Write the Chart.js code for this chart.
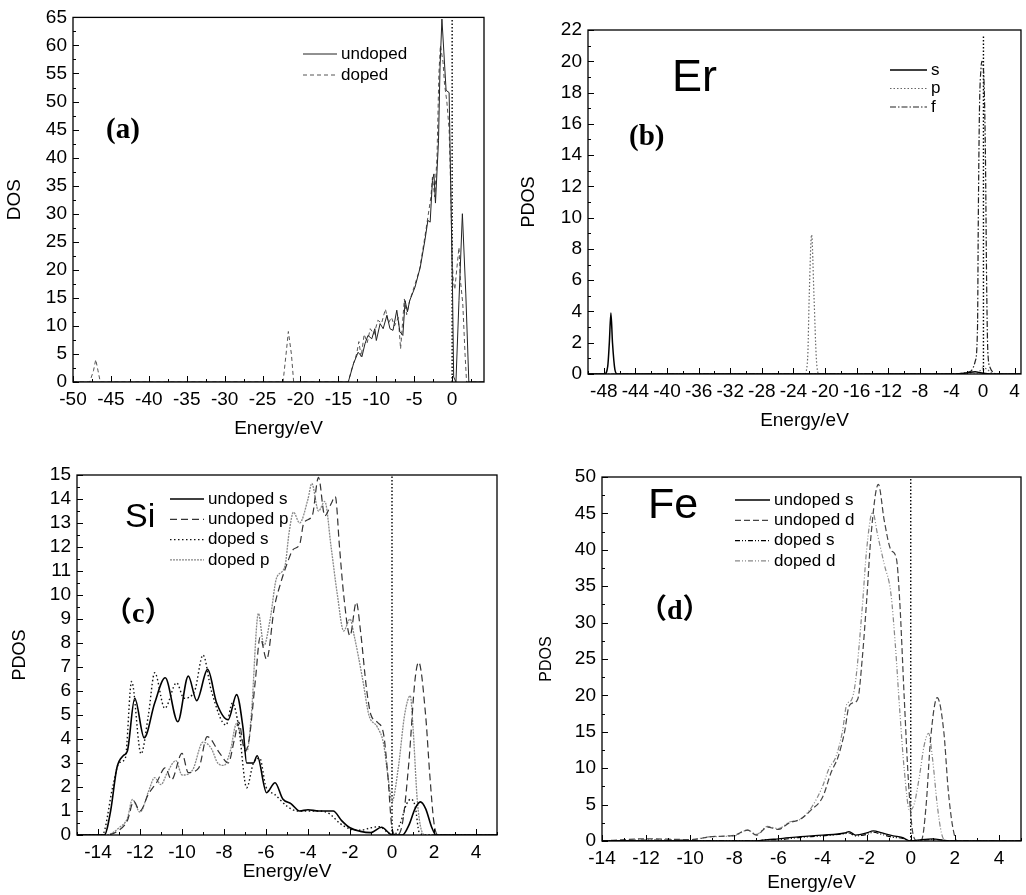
<!DOCTYPE html>
<html>
<head>
<meta charset="utf-8">
<script src="https://cdn.jsdelivr.net/npm/chart.js@4.4.0/dist/chart.umd.min.js"></script>
<style>
  body { margin: 0; background: #fff; width: 1026px; height: 895px; position: relative; overflow: hidden; }
  canvas { position: absolute; }
</style>
</head>
<body>
<canvas id="pa" width="505" height="442" style="left:0;top:0"></canvas>
<canvas id="pb" width="521" height="442" style="left:505px;top:0"></canvas>
<canvas id="pc" width="505" height="453" style="left:0;top:442px"></canvas>
<canvas id="pd" width="521" height="453" style="left:505px;top:442px"></canvas>
<script>
// ---- (a) total DOS, [energy, dos] ----
const aUndoped = [[-50,0],[-13.7,0],[-13.0,3.3],[-12.4,5.3],[-11.9,4.5],[-11.5,6.8],[-11.1,8.3],[-10.6,7.7],[-10.2,9.5],[-10.0,7.4],[-9.5,10.4],[-9.1,9.5],[-8.6,11.9],[-8.2,9.5],[-7.8,9.2],[-7.3,12.8],[-6.9,9.0],[-6.5,8.3],[-6.2,14.5],[-5.9,12.5],[-5.6,14.5],[-4.9,16.9],[-4.2,20.5],[-3.6,25.2],[-3.2,28.8],[-2.9,28.5],[-2.6,35.9],[-2.4,37.1],[-2.2,31.9],[-1.8,43],[-1.6,56],[-1.35,64.7],[-1.1,59],[-0.8,52],[-0.4,51.6],[-0.2,35.9],[0.05,16.3],[0.2,0.9],[0.5,0],[0.9,14.5],[1.35,30],[1.8,15.7],[2.2,0],[4.2,0]];
const aDoped = [[-50,0],[-47.8,0],[-47.3,2],[-47.0,4],[-46.7,2],[-46.4,0],[-22.3,0],[-21.9,5],[-21.6,9],[-21.2,5],[-20.9,0],[-13.7,0],[-13.2,2.5],[-12.6,5],[-12.3,7.2],[-12.0,4.5],[-11.6,8.5],[-11.2,7.0],[-10.8,9.5],[-10.3,8.5],[-9.8,11],[-9.3,10.5],[-8.8,13],[-8.4,10.5],[-8.0,11.5],[-7.6,10],[-7.1,11.5],[-6.8,5.9],[-6.3,14.8],[-6.0,12],[-5.6,14.5],[-5.0,17],[-4.3,20],[-3.7,25],[-3.3,28.5],[-2.8,33],[-2.6,36.5],[-2.3,33],[-2.0,40],[-1.75,55],[-1.55,60],[-1.2,57],[-1.0,53],[-0.7,50],[-0.4,45],[-0.2,35],[0.0,22],[0.15,18],[0.35,16.5],[0.6,20],[0.9,24],[1.1,18],[1.4,14],[1.7,5],[1.9,0],[4.2,0]];
const aFermi = [[0,0],[0,65]];
const aXTicks = [-50,-45,-40,-35,-30,-25,-20,-15,-10,-5,0];
const aYTicks = [0,5,10,15,20,25,30,35,40,45,50,55,60,65];

// ---- (b) Er PDOS ----
const bS = [[-50,0],[-47.9,0],[-47.5,0.5],[-47.3,2],[-47.1,3.9],[-46.9,2],[-46.6,0.3],[-46.3,0],[-3.5,0],[-2,0.08],[-1,0.15],[-0.5,0.1],[0,0.05],[1,0],[4.8,0]];
const bP = [[-50,0],[-22.6,0],[-22.2,1],[-22.0,5],[-21.7,8.9],[-21.4,5],[-21.1,1],[-20.8,0],[-1,0],[-0.4,0.2],[0,0.4],[0.5,0.3],[1.0,0.1],[1.5,0],[4.8,0]];
const bF = [[-50,0],[-4,0],[-3,0.03],[-2,0.1],[-1.5,0.2],[-1.0,0.8],[-0.7,3],[-0.6,10],[-0.45,17],[-0.25,19.6],[-0.15,20],[0.1,19],[0.3,14],[0.45,6],[0.6,1.5],[0.9,0.4],[1.3,0.1],[2,0],[4.8,0]];
const bFermi = [[0.05,0],[0.05,21.6]];
const bXTicks = [-48,-44,-40,-36,-32,-28,-24,-20,-16,-12,-8,-4,0,4];
const bYTicks = [0,2,4,6,8,10,12,14,16,18,20,22];

// ---- (c) Si PDOS ----
const cUndopedS = [[-15,0],[-13.7,0],[-13.4,1],[-13.1,2.8],[-12.8,3.3],[-12.6,3.5],[-12.25,5.7],[-11.8,4.05],[-11.3,5.5],[-10.8,6.55],[-10.2,4.72],[-9.7,6.62],[-9.3,5.6],[-8.78,6.9],[-8.35,5.5],[-7.8,4.8],[-7.4,5.85],[-7.1,4.5],[-6.92,3.0],[-6.6,3.0],[-6.42,3.3],[-5.97,1.76],[-5.57,2.18],[-5.2,1.5],[-4.8,1.3],[-4.4,1.0],[-4.0,1.05],[-3.5,1.0],[-2.8,1.0],[-2.4,0.6],[-2.0,0.3],[-1.5,0.15],[-1.0,0.1],[-0.5,0.32],[-0.1,0.05],[0,0],[0.5,0],[0.8,0.4],[1.1,1.1],[1.35,1.38],[1.6,1.1],[1.9,0.3],[2.1,0],[5,0]];
const cUndopedP = [[-15,0],[-13.6,0],[-13,0.2],[-12.6,0.6],[-12.3,1.4],[-12.0,1.0],[-11.6,1.7],[-11.2,2.2],[-10.8,2.8],[-10.5,2.3],[-10.0,3.4],[-9.7,2.6],[-9.2,2.8],[-8.8,4.1],[-8.2,3.4],[-7.8,3.0],[-7.5,4.0],[-7.3,4.7],[-7.0,3.5],[-6.8,4.0],[-6.5,6.5],[-6.28,8.24],[-5.97,7.32],[-5.6,9.5],[-5.3,10.5],[-5.0,11.3],[-4.7,11.9],[-4.4,12.1],[-4.2,13.0],[-3.8,13.3],[-3.5,14.9],[-3.2,13.3],[-2.9,13.8],[-2.7,14.1],[-2.5,12.0],[-2.3,10.0],[-2.0,8.3],[-1.7,9.7],[-1.5,8.5],[-1.2,6.0],[-1.0,5.0],[-0.7,4.7],[-0.4,4.2],[-0.2,2.5],[0.0,0.3],[0.2,0.0],[0.5,0.5],[0.8,3.0],[1.1,6.5],[1.27,7.2],[1.6,5.0],[1.8,2.5],[2.0,0.5],[2.2,0],[5,0]];
const cDopedS = [[-15,0],[-13.8,0],[-13.3,2.0],[-13.0,3.0],[-12.7,3.2],[-12.4,6.4],[-11.95,3.38],[-11.6,5.0],[-11.3,6.76],[-10.82,5.28],[-10.26,6.34],[-9.9,5.7],[-9.4,6.0],[-9.0,7.5],[-8.6,6.0],[-7.9,4.58],[-7.6,5.5],[-7.3,4.5],[-6.92,1.97],[-6.6,3.0],[-6.3,3.2],[-6.0,2.0],[-5.6,1.7],[-5.0,1.2],[-4.5,1.0],[-4.0,1.0],[-3.5,1.0],[-3.0,0.9],[-2.5,0.5],[-2.0,0.25],[-1.5,0.2],[-1.0,0.3],[-0.6,0.35],[-0.2,0.1],[0.1,0.0],[0.4,0.5],[0.7,1.3],[0.9,1.5],[1.1,1.2],[1.3,0.1],[1.6,0],[5,0]];
const cDopedP = [[-15,0],[-13.6,0],[-13,0.3],[-12.6,0.7],[-12.36,1.48],[-12.0,0.95],[-11.6,1.8],[-11.3,2.39],[-11.0,2.1],[-10.7,2.6],[-10.29,3.1],[-10.0,2.5],[-9.5,2.7],[-9.0,3.87],[-8.6,3.6],[-8.3,3.0],[-8.0,2.9],[-7.7,3.5],[-7.4,4.65],[-7.1,3.8],[-6.9,3.5],[-6.7,5.0],[-6.36,9.23],[-6.1,7.9],[-5.8,9.0],[-5.5,10.7],[-5.1,11.2],[-4.9,12.6],[-4.69,13.45],[-4.4,13.0],[-4.0,14.0],[-3.82,14.65],[-3.5,13.5],[-3.2,13.9],[-2.9,12.0],[-2.6,10.0],[-2.3,8.5],[-2.0,9.0],[-1.8,8.3],[-1.4,6.5],[-1.1,5.0],[-0.7,4.5],[-0.4,3.8],[-0.2,2.5],[0.0,1.4],[0.3,2.8],[0.6,5.0],[0.87,5.8],[1.0,4.5],[1.2,1.5],[1.4,0.2],[1.6,0],[5,0]];
const cFermi = [[0,0],[0,15]];
const cXTicks = [-14,-12,-10,-8,-6,-4,-2,0,2,4];
const cYTicks = [0,1,2,3,4,5,6,7,8,9,10,11,12,13,14,15];

// ---- (d) Fe PDOS ----
const dUndopedS = [[-14,0],[-13.5,0.05],[-10,0.05],[-7,0],[-6.5,0.2],[-6,0.3],[-5,0.6],[-4,0.8],[-3,1.1],[-2.8,1.3],[-2.5,0.8],[-2.0,1.1],[-1.7,1.4],[-1.3,1.1],[-0.8,0.7],[-0.4,0.5],[0,0],[0.5,0.2],[1.0,0.3],[1.5,0.1],[2,0],[5,0]];
const dUndopedD = [[-14,0],[-13.5,0.1],[-12,0.3],[-10,0.2],[-9,0.6],[-8,0.8],[-7.4,1.5],[-7,0.8],[-6.5,1.9],[-6,1.6],[-5.5,2.5],[-5,3.0],[-4.5,4.3],[-4.0,6.0],[-3.6,9.5],[-3.3,11.5],[-3.0,15.0],[-2.8,18.5],[-2.6,19.0],[-2.4,19.5],[-2.2,25],[-2.0,33],[-1.8,42],[-1.47,49],[-1.2,44],[-0.9,40],[-0.65,38.8],[-0.5,33],[-0.3,20],[-0.1,8],[0.1,1],[0.3,0],[0.5,0.2],[0.7,5],[0.9,14],[1.2,19.7],[1.5,15],[1.7,7],[1.9,2],[2.1,0],[5,0]];
const dDopedS = [[-14,0],[-13.5,0.05],[-10,0.05],[-7,0],[-6.5,0.2],[-6,0.2],[-5,0.5],[-4,0.7],[-3,1.0],[-2.8,1.1],[-2.5,0.7],[-2.0,0.9],[-1.7,1.2],[-1.3,0.9],[-0.8,0.5],[-0.4,0.4],[0,0],[0.5,0.1],[1.0,0.2],[1.5,0.1],[2,0],[5,0]];
const dDopedD = [[-14,0],[-13.5,0],[-12,0.2],[-10,0.2],[-9,0.6],[-8,0.7],[-7.4,1.5],[-7,0.9],[-6.5,2.0],[-6,1.7],[-5.5,2.6],[-5.0,3.0],[-4.5,4.6],[-4.0,7.5],[-3.7,10],[-3.4,11.5],[-3.1,15],[-2.9,18.8],[-2.7,19.3],[-2.5,22],[-2.2,32],[-2.0,40],[-1.73,45.2],[-1.5,42],[-1.2,38],[-0.9,34],[-0.7,27],[-0.5,18],[-0.3,10],[-0.05,4.2],[0.15,5],[0.4,9],[0.6,13],[0.81,14.8],[1.0,11],[1.2,5],[1.4,1],[1.6,0],[5,0]];
const dFermi = [[0,0],[0,50]];
const dXTicks = [-14,-12,-10,-8,-6,-4,-2,0,2,4];
const dYTicks = [0,5,10,15,20,25,30,35,40,45,50];

const SANS = "'Liberation Sans', Arial, sans-serif";
const SERIF = "'Liberation Serif', 'Times New Roman', 'Noto Sans CJK SC', serif";

const pts = arr => arr.map(p => ({ x: p[0], y: p[1] }));

function line(label, data, color, width, dash, smooth) {
  return {
    label: label,
    data: pts(data),
    borderColor: color,
    borderWidth: width,
    borderDash: dash,
    pointRadius: 0,
    fill: false,
    cubicInterpolationMode: smooth ? 'monotone' : 'default',
    tension: 0
  };
}

// frame, inward ticks, in-plot legend and panel labels
const decor = {
  id: 'decor',
  afterDraw(chart, args, o) {
    const { ctx, chartArea: a, scales: { x, y } } = chart;
    ctx.save();
    ctx.strokeStyle = '#000';
    ctx.lineWidth = 1.3;
    ctx.strokeRect(a.left, a.top, a.right - a.left, a.bottom - a.top);
    ctx.lineWidth = 1;
    ctx.beginPath();
    const xs = (v, len) => { const p = Math.round(x.getPixelForValue(v)) + 0.5; ctx.moveTo(p, a.bottom); ctx.lineTo(p, a.bottom - len); };
    const ys = (v, len) => { const p = Math.round(y.getPixelForValue(v)) + 0.5; ctx.moveTo(a.left, p); ctx.lineTo(a.left + len, p); };
    for (let k = Math.ceil(x.min / o.xMinor); k * o.xMinor <= x.max; k++) xs(k * o.xMinor, 3);
    for (let k = Math.ceil(y.min / o.yMinor); k * o.yMinor <= y.max; k++) ys(k * o.yMinor, 3);
    x.ticks.forEach(t => xs(t.value, 6));
    y.ticks.forEach(t => ys(t.value, 6));
    ctx.stroke();

    const lg = o.legend;
    ctx.font = lg.font;
    ctx.textBaseline = 'middle';
    ctx.fillStyle = '#000';
    lg.items.forEach((idx, i) => {
      const ds = chart.data.datasets[idx];
      const yy = lg.y + i * lg.gap;
      ctx.beginPath();
      ctx.setLineDash(ds.borderDash || []);
      ctx.strokeStyle = ds.borderColor;
      ctx.lineWidth = ds.borderWidth;
      ctx.moveTo(lg.x1, yy);
      ctx.lineTo(lg.x2, yy);
      ctx.stroke();
      ctx.setLineDash([]);
      ctx.fillText(ds.label, lg.tx, yy);
    });
    o.texts.forEach(t => {
      ctx.font = t.font;
      ctx.fillText(t.text, t.x, t.y);
    });
    ctx.restore();
  }
};

function panel(id, cfg) {
  const tickFont = { family: SANS, size: 19 };
  new Chart(document.getElementById(id), {
    type: 'line',
    data: { datasets: cfg.datasets },
    options: {
      responsive: false,
      animation: false,
      devicePixelRatio: 1,
      layout: { padding: { top: cfg.top, right: cfg.right, left: 0, bottom: 0 } },
      scales: {
        x: {
          type: 'linear', min: cfg.xMin, max: cfg.xMax,
          afterBuildTicks: s => { s.ticks = cfg.xTicks.map(v => ({ value: v })); },
          afterFit: s => { s.height = cfg.xBox; },
          ticks: { font: tickFont, color: '#000', padding: 6, maxRotation: 0, autoSkip: false, callback: v => String(v) },
          grid: { display: false, drawTicks: false },
          border: { display: false },
          title: { display: true, text: 'Energy/eV', color: '#000', font: { family: SANS, size: 19 }, padding: { top: 0, bottom: cfg.xTitlePad } }
        },
        y: {
          type: 'linear', min: cfg.yTicks[0], max: cfg.yTicks[cfg.yTicks.length - 1],
          afterBuildTicks: s => { s.ticks = cfg.yTicks.map(v => ({ value: v })); },
          afterFit: s => { s.width = cfg.yBox; },
          ticks: { font: tickFont, color: '#000', padding: 6, autoSkip: false, callback: v => String(v) },
          grid: { display: false, drawTicks: false },
          border: { display: false },
          title: { display: true, text: cfg.yTitle, color: '#000', font: { family: SANS, size: cfg.yTitleSize }, padding: { top: cfg.yTitlePad, bottom: 0 } }
        }
      },
      plugins: {
        legend: { display: false },
        tooltip: { enabled: false },
        decor: { xMinor: cfg.xMinor, yMinor: cfg.yMinor, legend: cfg.legend, texts: cfg.texts }
      }
    },
    plugins: [decor]
  });
}

const fermi = d => line('', d, '#000', 1.4, [1.5, 2], false);

panel('pa', {
  datasets: [
    line('undoped', aUndoped, '#222', 1, [], false),
    line('doped', aDoped, '#555', 1, [4, 3], false),
    fermi(aFermi)
  ],
  xMin: -50, xMax: 4.2, xTicks: aXTicks, xMinor: 2.5,
  yTicks: aYTicks, yMinor: 2.5,
  top: 17, right: 21, xBox: 60, yBox: 73,
  xTitlePad: 2, yTitle: 'DOS', yTitleSize: 19, yTitlePad: 3,
  legend: { font: '17px ' + SANS, items: [0, 1], x1: 303, x2: 337, tx: 341, y: 54, gap: 21 },
  texts: [{ text: '(a)', font: 'bold 29px ' + SERIF, x: 106, y: 131 }]
});

panel('pb', {
  datasets: [
    line('s', bS, '#000', 1.5, [], true),
    line('p', bP, '#666', 1.2, [1.5, 2], true),
    line('f', bF, '#222', 1.2, [6, 2, 1.5, 2], true),
    fermi(bFermi)
  ],
  xMin: -50, xMax: 4.8, xTicks: bXTicks, xMinor: 2,
  yTicks: bYTicks, yMinor: 1,
  top: 30, right: 4, xBox: 68, yBox: 83,
  xTitlePad: 10, yTitle: 'PDOS', yTitleSize: 18, yTitlePad: 13,
  legend: { font: '17px ' + SANS, items: [0, 1, 2], x1: 385, x2: 422, tx: 426, y: 70, gap: 18.5 },
  texts: [
    { text: 'Er', font: '45px ' + SANS, x: 167, y: 79 },
    { text: '(b)', font: 'bold 29px ' + SERIF, x: 124, y: 138 }
  ]
});

panel('pc', {
  datasets: [
    line('undoped s', cUndopedS, '#000', 1.6, [], true),
    line('undoped p', cUndopedP, '#333', 1.2, [7, 4], true),
    line('doped s', cDopedS, '#111', 1.4, [1.5, 2.5], true),
    line('doped p', cDopedP, '#888', 1.3, [2, 1], true),
    fermi(cFermi)
  ],
  xMin: -15, xMax: 5, xTicks: cXTicks, xMinor: 1,
  yTicks: cYTicks, yMinor: 0.5,
  top: 33, right: 8, xBox: 60, yBox: 77,
  xTitlePad: 12, yTitle: 'PDOS', yTitleSize: 18, yTitlePad: 9,
  legend: { font: '17px ' + SANS, items: [0, 1, 2, 3], x1: 170, x2: 204, tx: 208, y: 57, gap: 20.3 },
  texts: [
    { text: 'Si', font: '34px ' + SANS, x: 125, y: 76 },
    { text: '（c）', font: 'bold 28px ' + SERIF, x: 104, y: 173 }
  ]
});

panel('pd', {
  datasets: [
    line('undoped s', dUndopedS, '#000', 1.3, [], true),
    line('undoped d', dUndopedD, '#444', 1.2, [6, 3], true),
    line('doped s', dDopedS, '#000', 1.2, [5, 2, 1, 2, 1, 2], true),
    line('doped d', dDopedD, '#888', 1.2, [5, 2, 1, 2, 1, 2], true),
    fermi(dFermi)
  ],
  xMin: -14, xMax: 5, xTicks: dXTicks, xMinor: 1,
  yTicks: dYTicks, yMinor: 2.5,
  top: 35, right: 5, xBox: 54, yBox: 97,
  xTitlePad: 1, yTitle: 'PDOS', yTitleSize: 16, yTitlePad: 32,
  legend: { font: '17px ' + SANS, items: [0, 1, 2, 3], x1: 230, x2: 265, tx: 269, y: 58, gap: 20.3 },
  texts: [
    { text: 'Fe', font: '43px ' + SANS, x: 143, y: 64 },
    { text: '（d）', font: 'bold 28px ' + SERIF, x: 134, y: 170 }
  ]
});
</script>
</body>
</html>
